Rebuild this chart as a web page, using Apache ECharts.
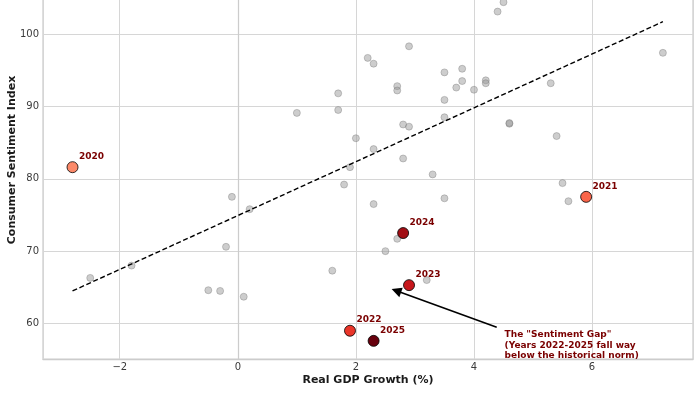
<!DOCTYPE html>
<html><head><meta charset="utf-8">
<script src="https://cdn.jsdelivr.net/npm/echarts@6/dist/echarts.min.js"></script>
<style>html,body{margin:0;padding:0;background:#fff}#c{width:700px;height:394px}</style>
</head><body><div id="c"></div>
<script>
// Historical (gray) observations: real GDP growth (%) and consumer sentiment
const historyGdp = [1.0, 1.7, 1.7, 1.8, 1.9, 4.5, 4.4, 2.9, 2.2, 2.3, 3.5, 3.8, 3.8, 3.7, 4.0, 4.2, 4.2, 2.7, 2.7, 5.3,
  3.5, 3.5, 2.8, 2.9, 4.6, 4.6, 2.0, 2.3, 2.8, 3.3, 3.5, 7.2, 5.4, 5.5, 5.6, -0.1, 0.2, -0.2, -1.8, -2.5,
  -0.5, -0.3, 0.1, 1.6, 2.3, 2.7, 2.5, 3.2];
const historySentiment = [89.1, 91.8, 89.5, 79.2, 81.6, 104.4, 103.1, 98.3, 96.7, 95.9, 94.7, 95.2, 93.5, 92.6, 92.3, 93.6, 93.2, 92.8, 92.2, 93.2,
  90.9, 88.5, 87.5, 87.2, 87.6, 87.7, 85.6, 84.1, 82.8, 80.6, 77.3, 97.4, 85.9, 79.4, 76.9, 77.5, 75.8, 70.6, 68.0, 66.3,
  64.6, 64.5, 63.7, 67.3, 76.5, 71.7, 70.0, 66.0];
// Highlighted recent years
const highlightYears = ['2020', '2021', '2022', '2023', '2024', '2025'];
const highlightGdp = [-2.8, 5.9, 1.9, 2.9, 2.8, 2.3];
const highlightSentiment = [81.6, 77.5, 59.0, 65.3, 72.5, 57.6];
// Trend line end points
const trendGdp = [-2.8, 7.2];
const trendSentiment = [64.5, 101.7];
// Annotation
const annotationLines = ['The "Sentiment Gap"', '(Years 2022-2025 fall way', 'below the historical norm)'];
const arrowTail = [4.385, 59.48];
const arrowHead = [2.685, 64.53];
const annotationAnchor = [4.51, 56.96];
const xTicks = [-2, 0, 2, 4, 6];
const yTicks = [60, 70, 80, 90, 100];

const FONT = 'DejaVu Sans';
const palette = ['#fc8a6a', '#f9654a', '#ea362a', '#c7171c', '#a20e15', '#67000d'];
const fmtNum = v => (v < 0 ? '\u2212' + Math.abs(v) : String(v));
const near = (arr, v) => arr.some(t => Math.abs(t - v) < 1e-6);

const chart = echarts.init(document.getElementById('c'), null, {renderer: 'canvas'});
chart.setOption({
  animation: false,
  backgroundColor: '#ffffff',
  grid: {left: 43, right: 7, top: -39, bottom: 35, containLabel: false, outerBoundsMode: 'none',
    show: true, borderColor: '#cccccc', borderWidth: 1.25, backgroundColor: 'transparent'},
  xAxis: {
    type: 'value', min: -3.3, max: 7.71, splitNumber: 5,
    axisLine: {show: true, lineStyle: {color: '#cccccc', width: 1.25}},
    axisTick: {show: false},
    splitLine: {show: true, lineStyle: {color: '#d6d6d6', width: 1}},
    axisLabel: {color: '#3a3a3a', fontSize: 10, fontFamily: FONT, margin: 3,
      formatter: v => near(xTicks, v) ? fmtNum(v) : ''},
    name: 'Real GDP Growth (%)', nameLocation: 'middle', nameGap: 16, nameMoveOverlap: false,
    nameTextStyle: {color: '#1a1a1a', fontSize: 11, fontWeight: 'bold', fontFamily: FONT}
  },
  yAxis: {
    type: 'value', min: 55.095, max: 110.09, splitNumber: 5,
    axisLine: {show: true, lineStyle: {color: '#cccccc', width: 1.25}},
    axisTick: {show: false},
    splitLine: {show: true, lineStyle: {color: '#d6d6d6', width: 1}},
    axisLabel: {color: '#3a3a3a', fontSize: 10, fontFamily: FONT, margin: 4,
      formatter: v => near(yTicks, v) ? fmtNum(v) : ''},
    name: 'Consumer Sentiment Index', nameLocation: 'middle', nameGap: 25, nameRotate: 90, nameMoveOverlap: false,
    nameTextStyle: {color: '#1a1a1a', fontSize: 11, fontWeight: 'bold', fontFamily: FONT}
  },
  series: [
    {
      type: 'scatter', z: 2, symbolSize: 7,
      data: historyGdp.map((x, i) => [x, historySentiment[i]]),
      itemStyle: {color: 'rgba(150,150,150,0.48)', borderColor: 'rgba(110,110,110,0.5)', borderWidth: 0.7, opacity: 1},
      emphasis: {disabled: true}, silent: true
    },
    {
      type: 'line', z: 3, symbol: 'none', silent: true,
      data: trendGdp.map((x, i) => [x, trendSentiment[i]]),
      lineStyle: {color: '#000000', width: 1.4, type: [5, 2.6]},
      markLine: {
        silent: true, animation: false,
        symbol: ['none', 'triangle'], symbolSize: 10,
        lineStyle: {color: '#000000', width: 1.6, type: 'solid'},
        itemStyle: {color: '#000000'},
        label: {show: false},
        data: [[{coord: arrowTail}, {coord: arrowHead}]]
      },
      markPoint: {
        silent: true, symbol: 'circle', symbolSize: 1,
        itemStyle: {color: 'rgba(0,0,0,0)'},
        label: {show: true, position: 'right', distance: 0, align: 'left',
          formatter: annotationLines.join('\n'),
          color: '#7a0000', fontSize: 9, fontWeight: 'bold', fontFamily: FONT, lineHeight: 10.4},
        data: [{coord: annotationAnchor}]
      }
    },
    {
      type: 'scatter', z: 4, symbolSize: 11, silent: true,
      data: highlightGdp.map((x, i) => ({
        value: [x, highlightSentiment[i]], name: highlightYears[i],
        itemStyle: {color: palette[i]}
      })),
      itemStyle: {borderColor: '#000000', borderWidth: 0.8, opacity: 1},
      label: {show: true, position: 'right', distance: 0.5, offset: [0, -10.6],
        formatter: p => p.name, color: '#7a0000', fontSize: 9, fontWeight: 'bold', fontFamily: FONT},
      emphasis: {disabled: true}
    }
  ]
});
</script></body></html>
